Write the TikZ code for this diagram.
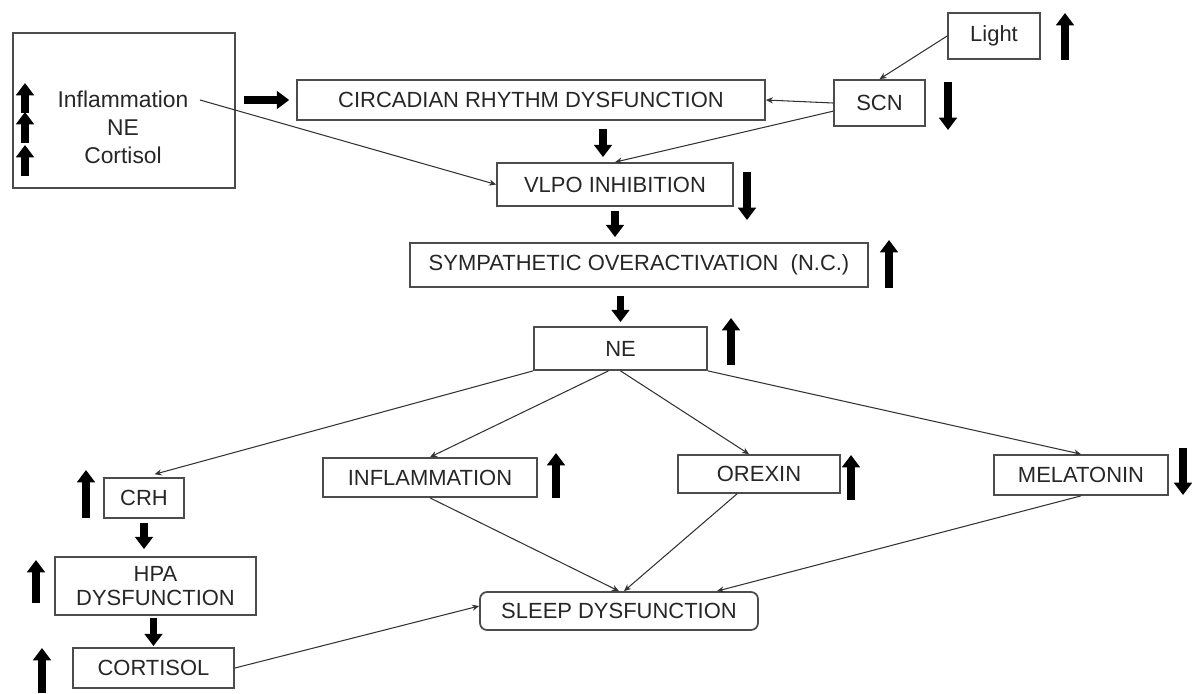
\documentclass[tikz,border=0pt]{standalone}
\usepackage{fontspec}
\setmainfont{Liberation Sans}
\usepackage{tikz}
\usetikzlibrary{arrows.meta,positioning}
\colorlet{bd}{black!70}
\colorlet{tx}{black!85}
\tikzset{bx/.style={rectangle, draw=bd, line width=1pt, inner sep=0pt, align=center,
            text=tx, font=\fontsize{12.5}{14}\selectfont},
         fat/.style={line width=4.2pt, -{Triangle[length=7pt,width=10pt]}},
         ln/.style={draw=black!80, line width=0.6pt, -{Stealth[length=4pt,width=3.5pt]}}}

\begin{document}
\begin{tikzpicture}[x=0.02cm, y=-0.02cm]
\useasboundingbox (0,0) rectangle (1192,693);
% boxes
\node[bx, minimum width=4.44cm, minimum height=3.1cm] (lbox) at (124,110.5) {};
\node[text=tx, align=center, font=\fontsize{13}{16}\selectfont] (ltxt) at (123,127)
   {Inflammation\\NE\\Cortisol};
\coordinate (ia) at (200,100);
\node[bx, minimum width=9.36cm, minimum height=0.8cm] (circ) at (531,100) {CIRCADIAN RHYTHM DYSFUNCTION};
\node[bx, minimum width=1.82cm, minimum height=0.92cm] (scn) at (879.5,103) {SCN};
\node[bx, minimum width=1.84cm, minimum height=0.92cm] (light) at (994,36) {Light};
\node[bx, minimum width=4.72cm, minimum height=0.86cm] (vlpo) at (615,184.5) {VLPO INHIBITION};
\node[bx, minimum width=9.16cm, minimum height=0.88cm] (symp) at (639,265) {SYMPATHETIC OVERACTIVATION~~(N.C.)};
\node[bx, minimum width=3.46cm, minimum height=0.86cm] (ne) at (620.5,348.5) {NE};
\node[bx, minimum width=4.28cm, minimum height=0.78cm] (infl) at (430,477.5) {INFLAMMATION};
\node[bx, minimum width=3.24cm, minimum height=0.76cm] (orx) at (759,474) {OREXIN};
\node[bx, minimum width=3.48cm, minimum height=0.8cm] (mel) at (1081,475) {MELATONIN};
\node[bx, minimum width=1.6cm, minimum height=0.8cm] (crh) at (144,498) {CRH};
\node[bx, minimum width=4.02cm, minimum height=1.16cm] (hpa) at (155.5,586) {HPA\\DYSFUNCTION};
\node[bx, minimum width=3.22cm, minimum height=0.8cm] (cort) at (153.5,668) {CORTISOL};
\node[bx, rounded corners=4pt, minimum width=5.56cm, minimum height=0.76cm] (sleep) at (619,611) {SLEEP DYSFUNCTION};

% connectors
\draw[ln] (light.west) -- (scn.north);
\draw[ln] (scn.west) -- (circ.east);
\draw[ln] (scn.190) -- (vlpo.north);
\draw[ln] (ia) -- (vlpo.west);
\draw[ln, shorten >=0.22cm] (ne.south west) -- (crh.north);
\draw[ln] ([xshift=-0.24cm]ne.south) -- (infl.north);
\draw[ln] (ne.south) -- ([xshift=-0.2cm]orx.north);
\draw[ln] (ne.south east) -- (mel.north);
\draw[ln] (infl.south) -- (sleep.north);
\draw[ln] ([xshift=-0.44cm]orx.south) -- ([xshift=0.1cm]sleep.north);
\draw[ln] (mel.south) -- ([xshift=1.96cm]sleep.north);
\draw[ln] (cort.east) -- ([yshift=0.1cm]sleep.west);

% fat arrows between boxes
\draw[fat, shorten <=0.16cm, shorten >=0.14cm] (lbox.east |- circ.west) -- (circ.west);
\draw[fat, shorten <=0.16cm, shorten >=0.1cm] ([xshift=-0.24cm]vlpo.north |- circ.south) -- ([xshift=-0.24cm]vlpo.north);
\draw[fat, shorten <=0.08cm, shorten >=0.1cm] (vlpo.south) -- (vlpo.south |- symp.north);
\draw[fat, shorten <=0.16cm, shorten >=0.08cm] (ne.north |- symp.south) -- (ne.north);
\draw[fat, shorten <=0.08cm, shorten >=0.14cm] (crh.south) -- (crh.south |- hpa.north);
\draw[fat, shorten <=0.04cm, shorten >=0.02cm] (cort.north |- hpa.south) -- (cort.north);

% up / down marks
\draw[fat] (25,113) -- (25,83);
\draw[fat] (25,143) -- (25,112);
\draw[fat] (25,176) -- (25,145);
\draw[fat] (1065,60) -- (1065,13);
\draw[fat] (948,82) -- (948,130);
\draw[fat] (747,172) -- (747,220);
\draw[fat] (889,288) -- (889,240);
\draw[fat] (731,365) -- (731,318);
\draw[fat] (556,498) -- (556,453);
\draw[fat] (851,500) -- (851,455);
\draw[fat] (1183,448) -- (1183,495);
\draw[fat] (86,518) -- (86,470);
\draw[fat] (36,603) -- (36,560);
\draw[fat] (42,693) -- (42,648);
\end{tikzpicture}
\end{document}
